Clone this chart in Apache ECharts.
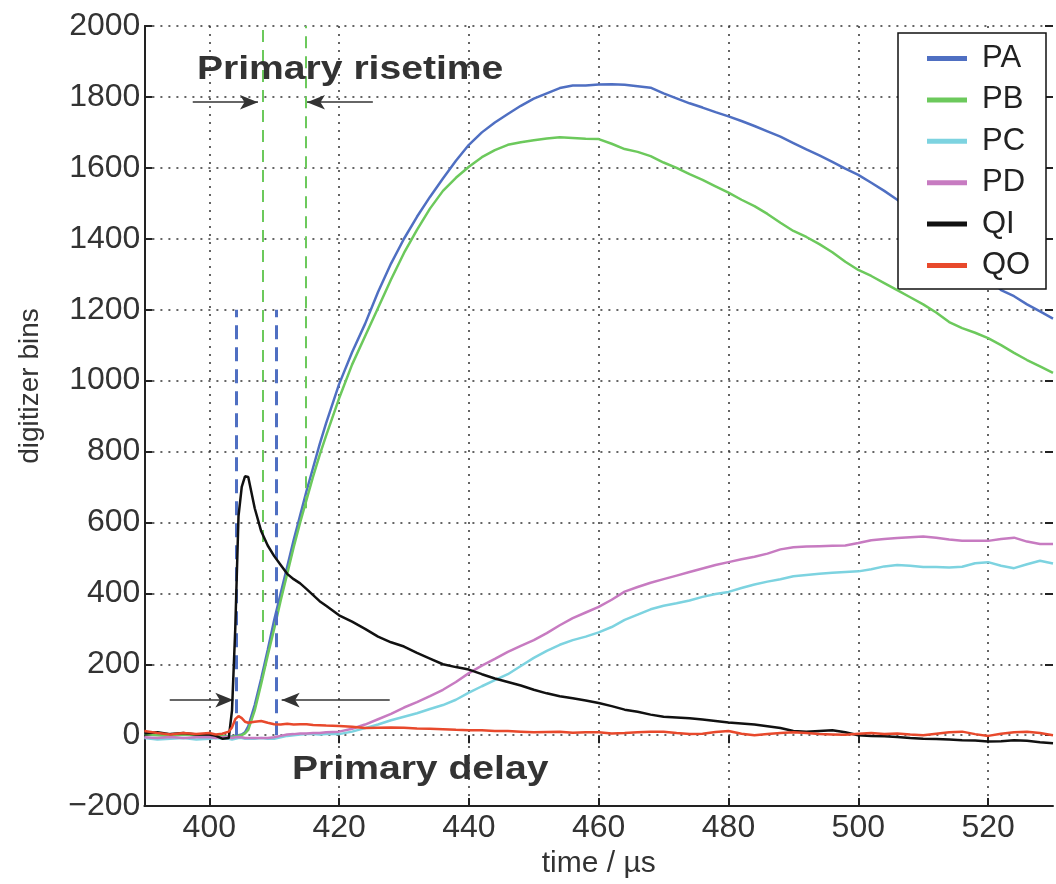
<!DOCTYPE html>
<html><head><meta charset="utf-8">
<script src="https://cdn.jsdelivr.net/npm/echarts@6/dist/echarts.min.js"></script>
<style>html,body{margin:0;padding:0;background:#fff}#c{width:1056px;height:884px}</style>
</head><body><div id="c"></div>
<script>
// time samples (µs)
const timeUs = [390,392,394,396,398,400,401,402,
  403,403.5,404,404.5,405,405.5,406,
  407,408,409,410,411,412,413,414,415,416,417,418,
  420,422,424,426,428,430,432,434,436,438,440,442,444,446,448,450,452,454,456,458,
  460,462,464,466,468,470,472,474,476,478,480,482,484,486,488,490,492,494,496,498,
  500,502,504,506,508,510,512,514,516,518,520,522,524,526,528,530];

const PA = [5,2,0,3,0,2,0,-3,
  -5,-4,-2,0,2,8,25,
  85,160,240,325,400,475,550,620,690,755,820,880,
  990,1080,1160,1250,1330,1400,1462,1518,1570,1620,1665,1700,1728,1752,1775,1795,1810,1825,1832,1832,
  1835,1836,1834,1830,1826,1810,1796,1782,1770,1757,1745,1732,1718,1703,1688,1670,1652,1635,1617,1598,
  1580,1558,1535,1510,1482,1452,1425,1395,1362,1325,1290,1255,1238,1215,1195,1175];

const PB = [3,0,-2,2,0,3,0,-2,
  -6,-5,-3,-1,0,5,15,
  70,145,225,300,380,455,530,600,665,730,790,845,
  950,1045,1125,1205,1285,1360,1425,1485,1535,1572,1603,1630,1650,1665,1672,1678,1683,1686,1684,1682,
  1681,1668,1653,1645,1633,1615,1600,1582,1566,1548,1530,1510,1492,1470,1445,1422,1405,1385,1362,1335,
  1312,1295,1275,1255,1235,1215,1192,1165,1148,1135,1120,1100,1078,1058,1040,1022];

const PC = [-8,-12,-10,-8,-12,-10,-8,-10,
  -10,-12,-10,-8,-8,-10,-10,
  -10,-8,-10,-10,-6,-2,0,2,3,3,2,3,
  3,10,20,30,42,52,62,74,85,100,120,138,155,172,195,218,238,255,268,278,
  290,305,325,340,355,365,372,380,390,398,404,415,425,433,440,448,452,455,458,460,
  462,468,476,480,478,474,474,473,475,485,488,478,471,482,492,484];

const PD = [-6,-8,-5,-8,-6,-5,-8,-6,
  -6,-8,-6,-5,-6,-8,-8,
  -8,-8,-8,-6,-2,2,3,5,5,6,6,8,
  10,18,30,45,60,78,93,110,128,150,175,196,215,235,252,268,288,310,330,346,
  362,382,405,418,430,440,450,460,470,480,488,496,503,512,524,530,532,533,534,535,
  542,550,553,556,558,560,557,552,548,548,548,553,557,546,539,539];

const QI = [5,8,3,6,2,2,-2,-10,
  -8,70,300,618,700,730,728,
  640,575,535,505,480,455,440,428,412,395,378,365,
  338,320,300,278,262,250,232,216,200,192,185,172,160,150,140,128,118,110,104,98,
  91,82,72,66,58,52,50,48,44,40,36,33,30,25,20,12,10,12,14,8,
  0,-2,-3,-5,-8,-10,-11,-12,-14,-15,-18,-17,-14,-16,-20,-23];

const QO = [12,6,2,6,3,6,2,4,
  10,22,45,54,48,38,35,
  38,40,35,31,30,32,30,31,31,29,28,27,
  26,24,20,21,22,21,19,18,17,15,14,14,12,12,10,8,9,10,7,8,
  8,5,6,8,10,10,6,3,4,9,12,4,0,3,6,8,6,3,2,1,
  4,6,3,5,2,0,4,8,10,3,-2,4,8,10,6,0];

const seriesNames = ['PA','PB','PC','PD','QI','QO'];
const seriesValues = [PA, PB, PC, PD, QI, QO];
const seriesColors = ['#4f6fc2','#6cc95c','#7dd3e0','#c77bc1','#111111','#e8492c'];

const xTickValues = [400,420,440,460,480,500,520];
// annotation geometry in data units
const delayMarkersX = [404.2, 410.3];          // blue dashed, 0 → 1200
const delayMarkerTop = 1200;
const riseMarkers = [[408.3, 263], [414.85, 640]]; // green dashed, from curve up to 2000
const riseArrows = [[[397.45,1785],[407.5,1785]], [[425.2,1785],[415.05,1785]]];
const delayArrows = [[[393.9,99],[403.7,99]], [[427.8,99],[411.15,99]]];
const annotations = [
  {text:'Primary risetime', t:421.7, v:1877},
  {text:'Primary delay', t:432.5, v:-98}
];

const FONT = "'Liberation Sans', Arial, Helvetica, sans-serif";
const chart = echarts.init(document.getElementById('c'), null, {renderer:'canvas'});

const gridLine = {show:true, lineStyle:{type:[2,6], width:1.5, color:'#333'}};

const markLineData = [];
delayMarkersX.forEach(x => markLineData.push([
  {coord:[x,0], lineStyle:{color:'#4f6fc2', type:[14,8], width:3}},
  {coord:[x,delayMarkerTop]}
]));
riseMarkers.forEach(([x,v]) => markLineData.push([
  {coord:[x,v], lineStyle:{color:'#6cc95c', type:[12,8], width:2}},
  {coord:[x,2000]}
]));
riseArrows.concat(delayArrows).forEach(([a,b]) => markLineData.push([
  {coord:a, symbol:'none', lineStyle:{color:'#333', type:'solid', width:1.6}},
  {coord:b, symbol:'arrow', symbolSize:[11,18]}
]));

const series = seriesNames.map((name, i) => ({
  name, type:'line', symbol:'none', showSymbol:false,
  data: timeUs.map((t, k) => [t, seriesValues[i][k]]),
  lineStyle:{color:seriesColors[i], width:2.5},
  itemStyle:{color:seriesColors[i]},
  z: 3 + i
}));
series[0].markLine = {silent:true, symbol:['none','none'], label:{show:false}, data:markLineData, animation:false};

chart.setOption({
  animation:false,
  backgroundColor:'#fff',
  textStyle:{fontFamily:FONT},
  grid:{left:144.4, right:3, top:26, bottom:71.5, containLabel:false},
  xAxis:[{
    type:'value', min:390, max:530, interval:20,
    name:'time / µs', nameLocation:'middle', nameGap:38,
    nameTextStyle:{fontSize:30, color:'#333', fontFamily:FONT},
    axisLine:{show:true, onZero:false, lineStyle:{color:'#222', width:2}},
    axisTick:{show:true, inside:true, length:8, customValues:xTickValues, lineStyle:{color:'#222', width:2}},
    axisLabel:{customValues:xTickValues, fontSize:32, color:'#333', margin:6, fontFamily:FONT},
    splitLine:gridLine
  },{
    type:'value', position:'top', min:390, max:530,
    axisLine:{show:false},
    axisTick:{show:true, inside:true, length:8, customValues:xTickValues, lineStyle:{color:'#222', width:2}},
    axisLabel:{show:false}, splitLine:{show:false}
  }],
  yAxis:[{
    type:'value', min:-200, max:2000, interval:200,
    name:'digitizer bins', nameLocation:'middle', nameGap:100,
    nameTextStyle:{fontSize:28, color:'#333', fontFamily:FONT, padding:[0,0,0,60]},
    axisLine:{show:true, onZero:false, lineStyle:{color:'#222', width:2}},
    axisTick:{show:true, inside:true, length:8, lineStyle:{color:'#222', width:2}},
    axisLabel:{fontSize:32, color:'#333', margin:4, fontFamily:FONT,
      formatter: v => v < 0 ? '\u2212' + Math.abs(v) : String(v)},
    splitLine:gridLine
  },{
    type:'value', position:'right', min:-200, max:2000, interval:200,
    axisLine:{show:false},
    axisTick:{show:true, inside:true, length:8, lineStyle:{color:'#222', width:2}},
    axisLabel:{show:false}, splitLine:{show:false}
  }],
  legend:{
    orient:'vertical', left:898, top:33,
    padding:[10,10,8,29], itemGap:10.4, itemWidth:40, itemHeight:5, icon:'rect',
    backgroundColor:'#fff', borderColor:'#111', borderWidth:1.5, borderRadius:0,
    textStyle:{fontSize:31, color:'#222', fontFamily:FONT, lineHeight:30, padding:[0,0,0,10], width:54},
    data:seriesNames
  },
  series
});

const texts = annotations.map(a => {
  const p = chart.convertToPixel({xAxisIndex:0, yAxisIndex:0}, [a.t, a.v]);
  return {type:'text', x:p[0], y:p[1], scaleX:1.15, z:100,
    style:{text:a.text, fontSize:34, fontWeight:'bold', fill:'#333', fontFamily:FONT, align:'center', verticalAlign:'middle'}};
});
chart.setOption({graphic:texts});
</script>
</body></html>
